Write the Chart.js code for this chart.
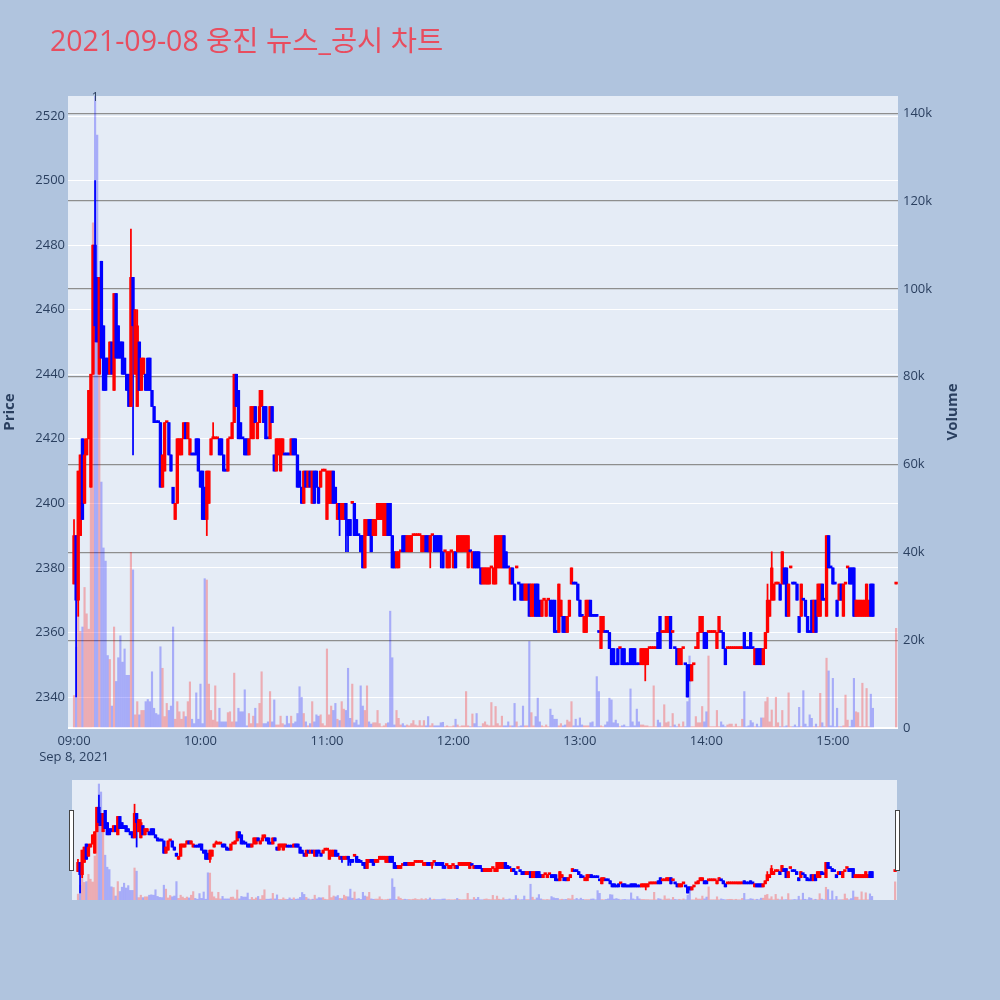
<!DOCTYPE html>
<html>
<head>
<meta charset="utf-8">
<script src="https://cdn.jsdelivr.net/npm/chart.js@4.4.0/dist/chart.umd.min.js"></script>
<style>
  html, body { margin: 0; padding: 0; width: 1000px; height: 1000px; overflow: hidden; background: #b0c4de; }
  #main { position: absolute; left: 0; top: 0; }
  #slider { position: absolute; left: 0; top: 780px; }
</style>
</head>
<body>
<canvas id="main" width="1000" height="780"></canvas>
<canvas id="slider" width="1000" height="120"></canvas>
<script>
// ---- data: one entry per minute after 09:00 (index = minute) ----
const openPrices = [
2375,2390,2370,2390,2420,2400,2415,2420,2405,2440,
2480,2470,2440,2475,2455,2445,2445,2440,2450,2435,
2465,2455,2450,2450,2445,2440,2440,2430,2470,2440,
2430,2450,2435,2440,2440,2445,2445,2435,2430,2425,
2425,2425,2405,2410,2425,2425,2415,2405,2395,2400,
2415,2415,2420,2425,2420,2415,2415,2415,2420,2420,
2410,2410,2405,2395,2400,2415,2420,2420,2420,2420,
2420,2415,2410,2410,2420,2420,2425,2440,2435,2425,
2420,2420,2420,2415,2420,2420,2430,2420,2425,2430,
2430,2430,2420,2420,2430,2415,2410,2415,2410,2415,
2415,2415,2415,2415,2420,2420,2415,2410,2405,2400,
2410,2405,2410,2400,2410,2410,2405,2405,2410,2410,
2395,2400,2400,2410,2405,2395,2400,2395,2395,2400,
2395,2395,2400,2400,2395,2390,2390,2390,2380,2390,
2395,2395,2390,2390,2395,2395,2395,2390,2390,2400,
2400,2390,2385,2380,2380,2385,2390,2390,2385,2385,
2385,2390,2390,2390,2390,2385,2385,2390,2390,2385,
2390,2390,2390,2390,2390,2385,2385,2380,2380,2385,
2380,2385,2385,2385,2385,2385,2385,2380,2385,2380,
2385,2385,2385,2380,2375,2375,2375,2375,2380,2375,
2375,2380,2380,2380,2390,2385,2380,2375,2380,2375,
2380,2375,2375,2375,2370,2370,2375,2365,2365,2375,
2375,2370,2365,2370,2365,2370,2370,2370,2370,2360,
2360,2365,2365,2365,2360,2365,2375,2375,2375,2375,
2370,2365,2360,2360,2365,2370,2365,2365,2365,2360,
2355,2360,2360,2360,2360,2355,2355,2350,2355,2355,
2355,2355,2350,2350,2355,2355,2355,2350,2350,2350,
2350,2350,2350,2355,2355,2355,2355,2360,2365,2360,
2360,2360,2360,2365,2360,2355,2355,2350,2350,2355,
2350,2350,2350,2345,2350,2355,2355,2360,2360,2360,
2360,2360,2360,2360,2360,2355,2360,2360,2360,2355,
2355,2355,2355,2355,2355,2355,2355,2355,2360,2355,
2355,2360,2355,2350,2355,2355,2355,2350,2355,2360,
2365,2370,2370,2375,2375,2375,2375,2380,2380,2365,
2380,2375,2375,2375,2365,2365,2370,2370,2365,2360,
2370,2360,2370,2365,2365,2375,2370,2365,2390,2380,
2380,2375,2370,2370,2375,2365,2375,2380,2380,2380,
2380,2365,2365,2365,2365,2365,2365,2365,2375,2375,
null,null,null,null,null,null,null,null,null,null,
2375];
const highPrices = [
2395,2390,2410,2415,2420,2420,2420,2435,2440,2480,
2500,2470,2470,2475,2455,2445,2445,2450,2450,2465,
2465,2455,2450,2450,2445,2440,2440,2485,2470,2460,
2460,2450,2445,2445,2440,2445,2445,2435,2430,2425,
2425,2425,2415,2425,2425,2425,2415,2405,2400,2420,
2420,2420,2425,2425,2425,2420,2415,2415,2420,2420,
2410,2410,2405,2410,2410,2420,2425,2420,2420,2420,
2420,2415,2410,2420,2420,2425,2440,2440,2435,2425,
2420,2420,2420,2420,2430,2430,2430,2425,2435,2435,
2430,2430,2420,2430,2430,2415,2420,2420,2420,2420,
2415,2415,2415,2420,2420,2420,2415,2410,2405,2410,
2410,2410,2410,2410,2410,2410,2405,2410,2410,2410,
2410,2410,2410,2410,2405,2400,2400,2400,2400,2400,
2395,2395,2400,2400,2395,2390,2390,2390,2395,2395,
2395,2395,2395,2395,2400,2400,2400,2400,2400,2400,
2400,2390,2385,2385,2385,2385,2390,2390,2390,2390,
2390,2390,2390,2390,2390,2390,2390,2390,2390,2390,
2390,2390,2390,2390,2390,2385,2385,2385,2385,2385,
2385,2385,2390,2390,2390,2390,2390,2390,2385,2385,
2385,2385,2385,2380,2380,2380,2380,2380,2380,2380,
2390,2390,2390,2390,2390,2385,2380,2380,2380,2375,
2380,2375,2375,2375,2375,2375,2375,2375,2375,2375,
2375,2370,2370,2370,2370,2370,2370,2370,2370,2360,
2375,2370,2365,2365,2365,2370,2380,2375,2375,2375,
2370,2365,2365,2370,2370,2370,2365,2365,2365,2360,
2365,2365,2360,2360,2360,2355,2355,2350,2355,2355,
2355,2355,2350,2350,2355,2355,2355,2350,2350,2355,
2355,2355,2355,2355,2355,2355,2355,2360,2365,2360,
2360,2365,2365,2365,2360,2355,2355,2355,2355,2355,
2350,2350,2350,2350,2350,2355,2360,2365,2365,2360,
2360,2360,2360,2360,2360,2360,2365,2360,2360,2355,
2355,2355,2355,2355,2355,2355,2355,2355,2360,2355,
2355,2360,2355,2355,2355,2355,2355,2355,2360,2375,
2370,2385,2375,2375,2375,2375,2385,2380,2380,2375,
2380,2375,2375,2375,2365,2375,2370,2370,2365,2360,
2370,2370,2370,2375,2375,2375,2370,2390,2390,2380,
2380,2375,2370,2375,2375,2375,2375,2380,2380,2380,
2380,2370,2370,2370,2370,2370,2375,2370,2375,2375,
null,null,null,null,null,null,null,null,null,null,
2375];
const lowPrices = [
2375,2340,2365,2390,2395,2400,2415,2420,2405,2440,
2450,2450,2440,2445,2435,2435,2440,2440,2440,2435,
2445,2445,2445,2440,2440,2435,2430,2430,2415,2440,
2430,2435,2435,2440,2435,2435,2435,2430,2425,2425,
2425,2405,2405,2410,2425,2415,2410,2400,2395,2400,
2415,2415,2420,2420,2420,2415,2415,2415,2415,2410,
2405,2395,2395,2390,2400,2415,2420,2420,2420,2415,
2415,2410,2410,2410,2420,2420,2425,2430,2420,2420,
2420,2415,2415,2415,2420,2420,2425,2420,2425,2430,
2425,2420,2420,2420,2425,2410,2410,2415,2410,2415,
2415,2415,2415,2415,2415,2415,2405,2405,2400,2400,
2405,2405,2405,2400,2400,2405,2400,2405,2410,2410,
2395,2400,2400,2400,2400,2395,2390,2395,2395,2385,
2385,2390,2400,2390,2390,2390,2385,2380,2380,2390,
2390,2385,2390,2390,2395,2395,2395,2390,2390,2390,
2390,2380,2380,2380,2380,2385,2385,2385,2385,2385,
2385,2390,2390,2390,2390,2385,2385,2385,2385,2380,
2390,2385,2385,2385,2380,2380,2385,2380,2380,2385,
2380,2380,2385,2385,2385,2385,2385,2380,2385,2380,
2380,2380,2380,2375,2375,2375,2375,2375,2380,2375,
2375,2380,2380,2380,2380,2380,2380,2375,2375,2370,
2380,2375,2370,2370,2370,2370,2365,2365,2365,2365,
2365,2365,2365,2370,2365,2370,2365,2365,2360,2360,
2360,2365,2360,2360,2360,2365,2375,2375,2375,2370,
2365,2365,2360,2360,2365,2365,2365,2365,2365,2360,
2355,2360,2360,2360,2355,2350,2350,2350,2350,2355,
2350,2350,2350,2350,2350,2350,2350,2350,2350,2350,
2350,2345,2350,2355,2355,2355,2355,2355,2355,2360,
2360,2360,2360,2355,2360,2355,2350,2350,2350,2355,
2350,2340,2345,2345,2350,2355,2355,2360,2360,2355,
2355,2360,2360,2360,2360,2355,2360,2360,2355,2350,
2355,2355,2355,2355,2355,2355,2355,2355,2355,2355,
2355,2355,2355,2350,2350,2350,2350,2350,2355,2360,
2365,2370,2370,2375,2375,2370,2375,2375,2365,2365,
2380,2375,2375,2370,2360,2365,2370,2365,2360,2360,
2360,2360,2360,2365,2365,2370,2370,2365,2380,2380,
2375,2375,2365,2370,2370,2365,2375,2380,2375,2375,
2365,2365,2365,2365,2365,2365,2365,2365,2365,2365,
null,null,null,null,null,null,null,null,null,null,
2375];
const closePrices = [
2390,2370,2410,2415,2395,2415,2420,2435,2440,2480,
2455,2450,2470,2445,2435,2435,2440,2450,2440,2465,
2445,2445,2445,2440,2440,2435,2430,2470,2455,2460,
2455,2435,2445,2445,2435,2435,2435,2430,2425,2425,
2425,2405,2415,2425,2425,2415,2410,2400,2400,2420,
2420,2420,2425,2420,2425,2420,2415,2415,2415,2410,
2405,2395,2395,2410,2410,2420,2420,2420,2420,2415,
2415,2410,2410,2420,2420,2425,2440,2430,2420,2420,
2420,2415,2415,2420,2430,2430,2425,2425,2430,2435,
2425,2420,2420,2430,2425,2410,2420,2420,2420,2420,
2415,2415,2415,2420,2415,2415,2405,2405,2400,2410,
2405,2410,2405,2410,2400,2405,2400,2410,2410,2410,
2410,2410,2410,2400,2400,2400,2395,2400,2400,2395,
2390,2390,2400,2390,2390,2390,2385,2380,2395,2395,
2390,2385,2395,2395,2400,2400,2400,2400,2400,2390,
2390,2380,2380,2385,2385,2385,2385,2385,2390,2390,
2390,2390,2390,2390,2390,2390,2390,2385,2385,2390,
2390,2385,2385,2385,2385,2380,2385,2385,2385,2385,
2385,2380,2390,2390,2390,2390,2390,2390,2385,2385,
2380,2380,2380,2375,2380,2380,2380,2380,2380,2380,
2390,2390,2390,2390,2380,2380,2380,2380,2375,2370,
2380,2375,2370,2370,2375,2375,2365,2375,2375,2365,
2365,2365,2370,2370,2370,2370,2365,2365,2360,2360,
2375,2370,2360,2360,2365,2370,2380,2375,2375,2370,
2365,2365,2365,2370,2370,2365,2365,2365,2365,2360,
2365,2365,2360,2360,2355,2350,2350,2350,2350,2355,
2350,2350,2350,2350,2350,2350,2350,2350,2350,2355,
2355,2355,2355,2355,2355,2355,2355,2355,2355,2360,
2360,2365,2365,2355,2360,2355,2350,2355,2355,2355,
2350,2340,2345,2350,2350,2355,2360,2365,2365,2355,
2355,2360,2360,2360,2360,2360,2365,2360,2355,2350,
2355,2355,2355,2355,2355,2355,2355,2355,2355,2355,
2355,2355,2355,2355,2350,2350,2350,2355,2360,2370,
2370,2380,2375,2375,2375,2370,2385,2375,2365,2375,
2380,2375,2375,2370,2360,2375,2370,2365,2360,2360,
2360,2370,2360,2375,2375,2370,2370,2390,2380,2380,
2375,2375,2365,2375,2370,2375,2375,2380,2375,2375,
2365,2370,2370,2370,2370,2370,2375,2370,2365,2365,
null,null,null,null,null,null,null,null,null,null,
2375];
// volume in thousands of shares
const volumesK = [
7.4,18.4,35,22,23,32,26,22.5,55,115,
145,135,100,56,41,38,16.5,15.6,5,23,
10.6,16,21,15,18,12,12,40,36,3,
6,3,4,4,6,6.5,6,12.8,4.5,3.3,
3,18.5,13.6,2.6,5.6,4,5,23,2,6,
3.7,2,3.7,2.6,6,10.5,2,1,8,2,
10,1,34,33.7,10,4,1.8,9.6,1.4,4.5,
1.4,1.4,1.4,3.5,3.7,1.4,12.5,1.4,4.5,3.7,
3.7,8.7,0.5,3.3,1,2.7,4.5,1,5.6,12.8,
1,1,1.4,8.3,1.4,6.4,0.7,0.7,2.7,1,
0.7,2.7,1,2.7,1,1.4,3.3,9.4,7,3.3,
1.4,0.5,1,6,1.4,3,2.7,3,1,0.5,
18,3,5,4,5.6,2,1.7,6,4.3,4,
13.6,2.2,10,1.2,1.8,0.7,9.6,5,4,9.6,
1.4,0.9,1.2,1.2,4,1,0.3,0.5,1,1.2,
26.6,16,0.7,4,2.2,0.7,1,0.5,0.7,0.5,
1,1.7,0.7,0.5,1.7,0.5,1.7,0.5,2.6,0.5,
1,0.5,0.5,0.5,1.2,1.3,0.3,0.5,0.3,0.3,
0.5,2,0.7,0.3,0.5,0.5,8.3,0.5,0.3,3.2,
1,3.3,0.3,0.3,1,1.4,0.7,0.5,5.8,0.5,
4.9,1,0.5,2.7,0.5,0.5,1.4,0.5,0.5,5.6,
1.4,0.3,0.5,5,0.5,0.5,19.7,3.5,0.5,2.6,
6.8,1.4,0.5,0.3,0.7,0.3,4.3,2.9,2,2,
0.5,1,0.5,0.7,1.8,1.4,6,0.5,2,0.5,
2.3,0.7,0.5,0.5,0.5,1.2,1.4,0.3,11.7,8.3,
0.5,0.3,0.7,1.4,6.8,6.4,1.2,1.8,1,0.3,
0.5,0.7,0.3,0.3,8.9,1.4,0.5,4.3,1.4,0.7,
0.7,0.5,0.5,0.3,0.3,9.6,0.3,1.8,1.2,0.3,
5.3,1.2,1.4,0.3,3.3,0.7,0.3,0.9,0.3,1.4,
0.3,6,16.4,0.3,0.3,2.6,1.2,1.2,4.9,1.4,
3.7,16.4,0.3,0.3,0.3,4,0.3,1.4,0.7,0.3,
0.7,0.9,0.9,0.3,0.9,0.3,0.3,2,8.3,0.3,
0.5,1.7,1.2,0.3,0.9,0.3,2.3,2.3,6,7,
1.4,4.1,0.3,7,1.2,0.3,4,0.3,0.5,8,
0.3,0.3,0.7,0.3,4.7,0.3,8.5,0.9,0.3,3,
2.2,0.3,0.9,0.3,7.9,1.2,0.3,15.9,13,0.5,
11.3,0.3,4.5,0.3,0.3,0.5,7.5,1.8,0.3,1.8,
11.3,3.7,3.5,0.3,10.2,0.3,9,0.3,7.7,4.5,
null,null,null,null,null,null,null,null,null,null,
22.7];

const tickMinutes = [0, 60, 120, 180, 240, 300, 360];
const tickText = [['09:00', 'Sep 8, 2021'], '10:00', '11:00', '12:00', '13:00', '14:00', '15:00'];
const priceTicks = [2340, 2360, 2380, 2400, 2420, 2440, 2460, 2480, 2500, 2520];
const volumeTicksK = [0, 20, 40, 60, 80, 100, 120, 140];
const newsMinutes = [10];
const newsLabels = ['1'];
const chartTitle = '2021-09-08 웅진 뉴스_공시 차트';

// ---- styling ----
const FONT = "'Open Sans', 'Noto Sans CJK KR', sans-serif";
const AXIS_COLOR = '#2a3f5f';
const PLOT_BG = '#e5ecf6';
const UP = '#ff0000', DOWN = '#0000ff';
const UP_VOL = 'rgba(255,0,0,0.27)', DOWN_VOL = 'rgba(0,0,255,0.27)';
const X_MIN = -2.85, X_MAX = 390.9;

Chart.defaults.font.family = FONT;

// candle direction (equal open/close follows the previous close, then the previous direction)
const dirs = [];
{
  let prevDir = 1, prevClose = null;
  for (let i = 0; i < openPrices.length; i++) {
    if (openPrices[i] == null) { dirs.push(null); continue; }
    let d;
    if (closePrices[i] > openPrices[i]) d = 1;
    else if (closePrices[i] < openPrices[i]) d = -1;
    else if (prevClose != null && closePrices[i] > prevClose) d = 1;
    else if (prevClose != null && closePrices[i] < prevClose) d = -1;
    else d = prevDir;
    dirs.push(d); prevDir = d; prevClose = closePrices[i];
  }
}
const present = openPrices.map((v, i) => i).filter(i => openPrices[i] != null);

function makeDatasets(yId, y2Id, bodyW) {
  return [
    {
      label: 'body', yAxisID: yId, order: 1, grouped: false,
      data: present.map(i => ({ x: i, y: [openPrices[i], closePrices[i]] })),
      backgroundColor: c => dirs[c.raw.x] > 0 ? UP : DOWN,
      barThickness: bodyW, minBarLength: 2, borderWidth: 0
    },
    {
      label: 'wick', yAxisID: yId, order: 2, grouped: false,
      data: present.map(i => ({ x: i, y: [lowPrices[i], highPrices[i]] })),
      backgroundColor: c => dirs[c.raw.x] > 0 ? UP : DOWN,
      barThickness: 1.1, minBarLength: 0, borderWidth: 0
    },
    {
      label: 'volume', yAxisID: y2Id, order: 3, grouped: false,
      data: present.map(i => ({ x: i, y: volumesK[i] })),
      backgroundColor: c => dirs[c.raw.x] > 0 ? UP_VOL : DOWN_VOL,
      barThickness: 1.5, borderWidth: 0
    }
  ];
}

const mainDecor = {
  id: 'mainDecor',
  beforeDraw(chart) {
    const { ctx, chartArea: a } = chart;
    ctx.save();
    ctx.fillStyle = PLOT_BG;
    ctx.fillRect(a.left, a.top, a.right - a.left, a.bottom - a.top);
    ctx.restore();
  },
  afterDraw(chart) {
    const { ctx, chartArea: a } = chart;
    ctx.save();
    // title
    ctx.fillStyle = '#e84d5f';
    ctx.font = "28.5px " + FONT;
    ctx.textAlign = 'left';
    ctx.textBaseline = 'alphabetic';
    ctx.fillText(chartTitle, 50, 51);
    // axis titles
    ctx.fillStyle = AXIS_COLOR;
    ctx.font = "bold 15px " + FONT;
    ctx.textAlign = 'center';
    ctx.textBaseline = 'middle';
    const cy = (a.top + a.bottom) / 2;
    ctx.save(); ctx.translate(10, cy); ctx.rotate(-Math.PI / 2); ctx.fillText('Price', 0, 0); ctx.restore();
    ctx.save(); ctx.translate(953, cy); ctx.rotate(-Math.PI / 2); ctx.fillText('Volume', 0, 0); ctx.restore();
    // news markers
    ctx.font = "12px " + FONT;
    newsMinutes.forEach((m, k) => {
      const x = chart.scales.x.getPixelForValue(m);
      ctx.fillText(newsLabels[k], x, a.top + 2);
    });
    ctx.restore();
  }
};

new Chart(document.getElementById('main'), {
  type: 'bar',
  data: { datasets: makeDatasets('y', 'y2', 2.7) },
  options: {
    responsive: false,
    animation: false,
    layout: { padding: { top: 96, left: 0, right: 0, bottom: 0 } },
    plugins: { legend: { display: false }, tooltip: { enabled: false } },
    scales: {
      x: {
        type: 'linear', min: X_MIN, max: X_MAX, offset: false,
        grid: { display: false, drawTicks: false }, border: { display: false },
        afterBuildTicks: s => { s.ticks = tickMinutes.map(v => ({ value: v })); },
        afterFit: s => { s.height = 52; },
        ticks: {
          autoSkip: false, maxRotation: 0, padding: 5, color: AXIS_COLOR,
          font: { size: 13, lineHeight: 1.25 },
          callback: (v, idx) => tickText[idx]
        }
      },
      y: {
        position: 'left', min: 2330.4, max: 2526.2,
        grid: { color: '#ffffff', lineWidth: 1, drawTicks: false }, border: { display: false },
        afterBuildTicks: s => { s.ticks = priceTicks.map(v => ({ value: v })); },
        afterFit: s => { s.width = 68; },
        ticks: { padding: 3, color: AXIS_COLOR, font: { size: 13 }, callback: v => String(v) }
      },
      y2: {
        position: 'right', min: 0, max: 143.9,
        grid: {
          color: c => c.tick && c.tick.value === 0 ? '#ffffff' : '#8e8e8e',
          lineWidth: c => c.tick && c.tick.value === 0 ? 2 : 1.2,
          drawTicks: false
        },
        border: { display: false },
        afterBuildTicks: s => { s.ticks = volumeTicksK.map(v => ({ value: v })); },
        afterFit: s => { s.width = 102; },
        ticks: { padding: 5, color: AXIS_COLOR, font: { size: 13 }, callback: v => v === 0 ? '0' : v + 'k' }
      }
    }
  },
  plugins: [mainDecor]
});

const sliderDecor = {
  id: 'sliderDecor',
  beforeDraw(chart) {
    const { ctx, chartArea: a } = chart;
    ctx.save();
    ctx.fillStyle = PLOT_BG;
    ctx.fillRect(a.left, a.top, a.right - a.left, a.bottom - a.top);
    ctx.restore();
  },
  afterDraw(chart) {
    const { ctx, chartArea: a } = chart;
    ctx.save();
    ctx.fillStyle = '#ffffff';
    ctx.strokeStyle = '#444444';
    ctx.lineWidth = 1;
    const h = 60, top = a.top + 30;
    [a.left - 3, a.right - 2].forEach(x => {
      ctx.fillRect(x, top, 4, h);
      ctx.strokeRect(x + 0.5, top + 0.5, 4, h);
    });
    ctx.restore();
  }
};

new Chart(document.getElementById('slider'), {
  type: 'bar',
  data: { datasets: makeDatasets('sy', 'sy2', 2.7) },
  options: {
    responsive: false,
    animation: false,
    layout: { padding: { top: 0, left: 72, right: 103, bottom: 0 } },
    plugins: { legend: { display: false }, tooltip: { enabled: false } },
    scales: {
      x: { type: 'linear', display: false, min: X_MIN, max: X_MAX, offset: false },
      sy: { display: false, min: 2328.6, max: 2524.5 },
      sy2: { display: false, min: 0, max: 150 }
    }
  },
  plugins: [sliderDecor]
});
</script>
</body>
</html>
